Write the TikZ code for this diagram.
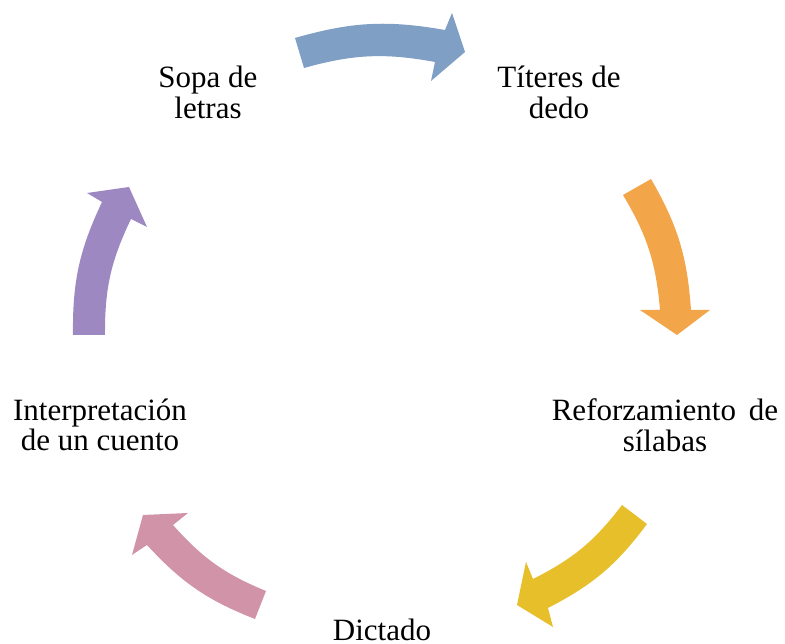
\documentclass[tikz,border=0pt]{standalone}
\usepackage{fontspec}
\setmainfont{Liberation Serif}
\definecolor{cblue}{HTML}{7F9FC5}
\definecolor{corange}{HTML}{F3A649}
\definecolor{cyellow}{HTML}{E6BF2B}
\definecolor{cpink}{HTML}{D093A7}
\definecolor{cpurple}{HTML}{9E88C2}
\newcommand\cyclearrow[8]{%
  \fill[#1] #2 to[bend left=13] #3 -- #4 -- #5 -- #6 -- #7 to[bend right=13] #8 -- cycle;}
\begin{document}
\begin{tikzpicture}[x=1pt,y=1pt,
  lbl/.style={anchor=base,align=center,font=\fontsize{31}{30.5}\selectfont,inner sep=0pt}]
\useasboundingbox (0,0) rectangle (785,644);
% labels (base anchor = baseline of last line)
\node[lbl] (sopa) at (208,525.5) {Sopa de\\letras};
\node[lbl] (titeres) at (559,525.5) {Títeres de\\dedo};
\node[lbl] (refuerzo) at (665,192.5) {Reforzamiento \,de\\sílabas};
\node[lbl] (dictado) at (382,3.5) {Dictado};
\node[lbl] (interp) at (100,193) {Interpretación\\de un cuento};
% arrows
\cyclearrow{cblue}{(295,606)}{(445,614)}{(452,631)}{(465,592)}{(431,563)}{(435,582)}{(304,576)}
\cyclearrow{corange}{(651,465)}{(691,334)}{(710,334)}{(677,309)}{(640,334)}{(660,334)}{(623,449)}
\cyclearrow{cyellow}{(647,120)}{(548,36)}{(553,17)}{(517,39)}{(526,82)}{(533,65)}{(622,139)}
\cyclearrow{cpink}{(255,25)}{(147,99)}{(132,89)}{(143,129)}{(188,131)}{(173,119)}{(266,53)}
\cyclearrow{cpurple}{(73,309)}{(102,442)}{(87,451)}{(129,457)}{(147,417)}{(131,425)}{(105,309)}
\end{tikzpicture}
\end{document}
